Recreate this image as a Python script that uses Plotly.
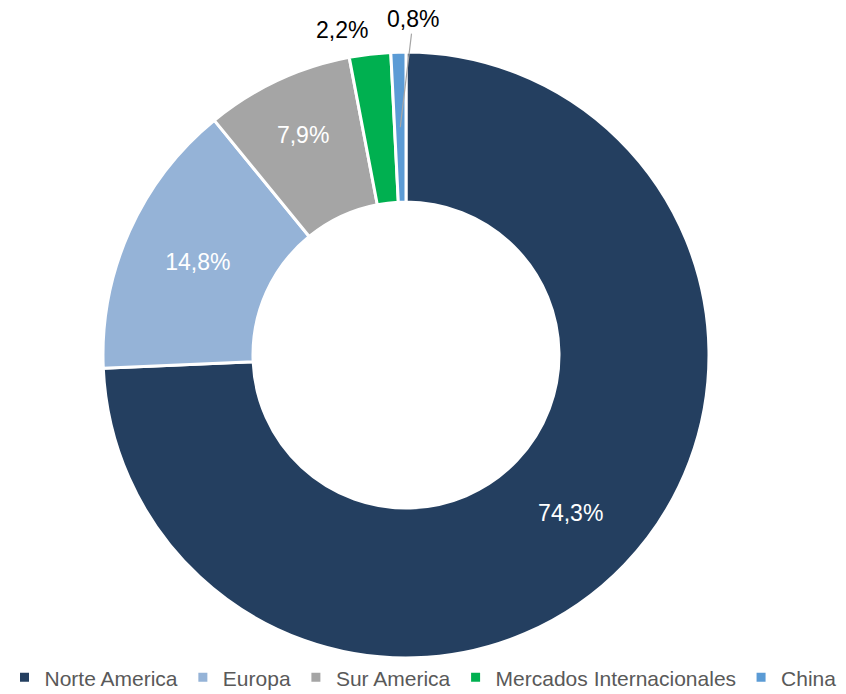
import math
import plotly.graph_objects as go

regions = ["Norte America", "Europa", "Sur America", "Mercados Internacionales", "China"]
shares = [74.3, 14.8, 7.9, 2.2, 0.8]
colors = ["#243F60", "#95B3D7", "#A5A5A5", "#00B050", "#5B9BD5"]

W, H = 846, 694
cx, cy, r = 406, 355, 303
hole = 0.505
FONT = "Liberation Sans, Arial, sans-serif"

# small slices get labels outside (as annotations), big ones inside
inside = [s >= 5 for s in shares]
texttemplates = ["%{value:.1f}%" if i else "" for i in inside]

fig = go.Figure(go.Pie(
    labels=regions,
    values=shares,
    sort=False,
    direction="clockwise",
    rotation=0,
    hole=hole,
    marker=dict(colors=colors, line=dict(color="#FFFFFF", width=3)),
    texttemplate=texttemplates,
    textposition="inside",
    insidetextorientation="horizontal",
    insidetextfont=dict(color="#FFFFFF", size=23, family=FONT),
    domain=dict(x=[(cx - r) / W, (cx + r) / W], y=[1 - (cy + r) / H, 1 - (cy - r) / H]),
    hoverinfo="label+percent",
))

# anchor points for the outside labels: middle of each small slice, mid-ring
total = sum(shares)
cum = 0.0
anchors = []
for s in shares:
    mid = (cum + s / 2) / total * 2 * math.pi
    rr = r * (1 + hole) / 2
    px = cx + rr * math.sin(mid)
    py = cy - rr * math.cos(mid)
    anchors.append((px / W, 1 - py / H))
    cum += s

fmt = lambda v: f"{v:.1f}".replace(".", ",") + "%"

# Mercados Internacionales label (no leader line)
fig.add_annotation(
    x=anchors[3][0], y=anchors[3][1], xref="paper", yref="paper",
    xanchor="center", yanchor="middle",
    text=fmt(shares[3]), showarrow=False, xshift=-37, yshift=99,
    font=dict(size=23, color="#000000", family=FONT),
)
# China label with leader line
fig.add_annotation(
    x=anchors[4][0], y=anchors[4][1], xref="paper", yref="paper",
    text=fmt(shares[4]), showarrow=True, ax=13, ay=-108,
    arrowhead=0, arrowwidth=1.2, arrowcolor="#A6A6A6", standoff=0,
    font=dict(size=23, color="#000000", family=FONT),
)

fig.update_layout(
    width=W, height=H,
    separators=",.",
    margin=dict(l=0, r=0, t=0, b=0, autoexpand=False),
    paper_bgcolor="#FFFFFF",
    plot_bgcolor="#FFFFFF",
    font=dict(family=FONT, color="#595959"),
    showlegend=True,
    legend=dict(
        orientation="h",
        x=0.5, xanchor="center",
        y=-0.006, yanchor="bottom",
        font=dict(size=21, color="#595959"),
        traceorder="normal",
        itemwidth=30,
    ),
)

fig.write_html(
    "out.html",
    config={"displayModeBar": False},
    post_script="document.body.style.margin='0';document.body.style.padding='0';",
)
